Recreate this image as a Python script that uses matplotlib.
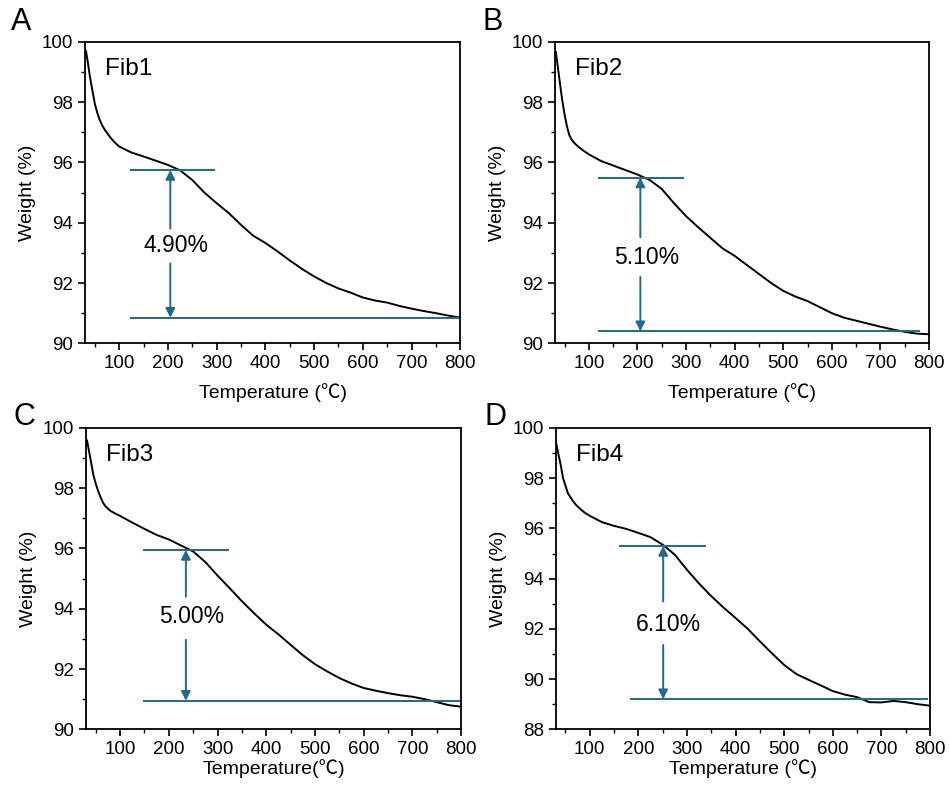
import matplotlib
matplotlib.use('Agg')
import matplotlib.pyplot as plt
from matplotlib.ticker import MultipleLocator

plt.rcParams['font.family'] = ['Liberation Sans', 'Noto Sans CJK SC']

# TGA curves, weight (%) vs temperature
temps = [30, 32, 36, 40, 45, 50, 55, 60, 65, 70, 80, 90, 100, 125, 150, 175, 200, 225,
         250, 275, 300, 325, 350, 375, 400, 425, 450, 475, 500, 525, 550, 575, 600,
         625, 650, 675, 700, 725, 750, 775, 800]

fib1 = [99.6, 99.7, 99.3, 98.85, 98.4, 97.96, 97.65, 97.42, 97.24, 97.1, 96.87, 96.68,
        96.53, 96.33, 96.2, 96.06, 95.92, 95.74, 95.42, 95.0, 94.65, 94.32, 93.93, 93.57,
        93.33, 93.05, 92.75, 92.47, 92.22, 92.0, 91.82, 91.68, 91.52, 91.42, 91.35,
        91.24, 91.15, 91.07, 91.0, 90.92, 90.85]
fib2 = [99.6, 99.68, 99.2, 98.7, 98.1, 97.6, 97.2, 96.9, 96.75, 96.65, 96.5, 96.38,
        96.27, 96.05, 95.9, 95.75, 95.6, 95.42, 95.12, 94.65, 94.22, 93.85, 93.5, 93.15,
        92.9, 92.6, 92.3, 92.0, 91.74, 91.55, 91.4, 91.2, 91.0, 90.85, 90.75,
        90.65, 90.55, 90.46, 90.38, 90.32, 90.3]
fib3 = [99.5, 99.6, 99.25, 98.9, 98.45, 98.15, 97.9, 97.7, 97.52, 97.4, 97.25, 97.16,
        97.08, 96.86, 96.65, 96.45, 96.3, 96.1, 95.9, 95.55, 95.1, 94.68, 94.25, 93.85,
        93.47, 93.15, 92.8, 92.46, 92.16, 91.92, 91.7, 91.52, 91.37, 91.28, 91.2,
        91.13, 91.08, 91.0, 90.9, 90.8, 90.75]
fib4 = [99.45, 99.3, 98.9, 98.55, 98.0, 97.7, 97.4, 97.25, 97.1, 96.97, 96.78, 96.62,
        96.5, 96.25, 96.1, 95.98, 95.82, 95.65, 95.35, 94.95, 94.35, 93.8, 93.3, 92.85,
        92.43, 92.0, 91.5, 91.02, 90.56, 90.2, 89.97, 89.75, 89.52, 89.38, 89.28,
        89.08, 89.07, 89.13, 89.08, 89.0, 88.94]

names = ['Fib1', 'Fib2', 'Fib3', 'Fib4']
letters = ['A', 'B', 'C', 'D']
losses = [4.90, 5.10, 5.00, 6.10]
onset = [95.75, 95.5, 95.95, 95.3]
xlabels = ['Temperature (℃)', 'Temperature (℃)', 'Temperature(℃)', 'Temperature (℃)']
ymins = [90, 90, 90, 88]

# arrow x, top bar span, bottom bar span, label pos, arrow tails
arrow_x = [205, 206, 235, 251]
top_bar = [(124, 295), (121, 294), (150, 322), (163, 337)]
bot_bar = [(124, 800), (121, 779), (150, 800), (184, 793)]
label_xy = [(217, 93.25), (218, 92.86), (247, 93.74), (261, 92.16)]
tails = [(93.8, 92.65), (93.52, 92.2), (94.4, 92.97), (93.09, 91.36)]

ann_color = '#1f6a8a'

fig = plt.figure(figsize=(9.5, 7.91), dpi=100)
boxes = [[0.0895, 0.566, 0.395, 0.381],
         [0.584, 0.566, 0.394, 0.381],
         [0.0905, 0.078, 0.395, 0.381],
         [0.585, 0.078, 0.394, 0.381]]
letter_pos = [(0.012, 0.962), (0.508, 0.962), (0.014, 0.463), (0.510, 0.463)]
xpads = [8, 8, 1, 1]

for i, w in enumerate([fib1, fib2, fib3, fib4]):
    ax = fig.add_axes(boxes[i])
    ax.plot(temps, w, color='black', lw=1.4)
    ax.set_xlim(30, 800)
    ax.set_ylim(ymins[i], 100)
    ax.xaxis.set_major_locator(MultipleLocator(100))
    ax.xaxis.set_minor_locator(MultipleLocator(50))
    ax.yaxis.set_major_locator(MultipleLocator(2))
    ax.yaxis.set_minor_locator(MultipleLocator(1))
    ax.tick_params(which='major', direction='out', length=5, width=1.2, labelsize=13.5)
    ax.tick_params(which='minor', direction='out', length=3, width=1.0)
    for s in ax.spines.values():
        s.set_linewidth(1.3)
    ax.set_xlabel(xlabels[i], fontsize=14, labelpad=xpads[i])
    ax.set_ylabel('Weight (%)', fontsize=14, labelpad=4)

    # weight loss annotation
    top = onset[i]
    bot = top - losses[i]
    ax.plot(top_bar[i], [top, top], color=ann_color, lw=1.4)
    ax.plot(bot_bar[i], [bot, bot], color=ann_color, lw=1.4)
    ax.annotate('', xy=(arrow_x[i], top), xytext=(arrow_x[i], tails[i][0]),
                arrowprops=dict(arrowstyle='-|>,head_length=0.55,head_width=0.28',
                                color=ann_color, lw=1.4, shrinkA=0, shrinkB=0))
    ax.annotate('', xy=(arrow_x[i], bot), xytext=(arrow_x[i], tails[i][1]),
                arrowprops=dict(arrowstyle='-|>,head_length=0.55,head_width=0.28',
                                color=ann_color, lw=1.4, shrinkA=0, shrinkB=0))
    ax.text(label_xy[i][0], label_xy[i][1], '%.2f%%' % losses[i], fontsize=16.5,
            ha='center', va='center')

    ax.text(0.053, 0.89, names[i], transform=ax.transAxes, fontsize=17.5,
            ha='left', va='baseline')
    fig.text(letter_pos[i][0], letter_pos[i][1], letters[i], fontsize=22,
             ha='left', va='baseline')

fig.savefig('out.png', dpi=100)
